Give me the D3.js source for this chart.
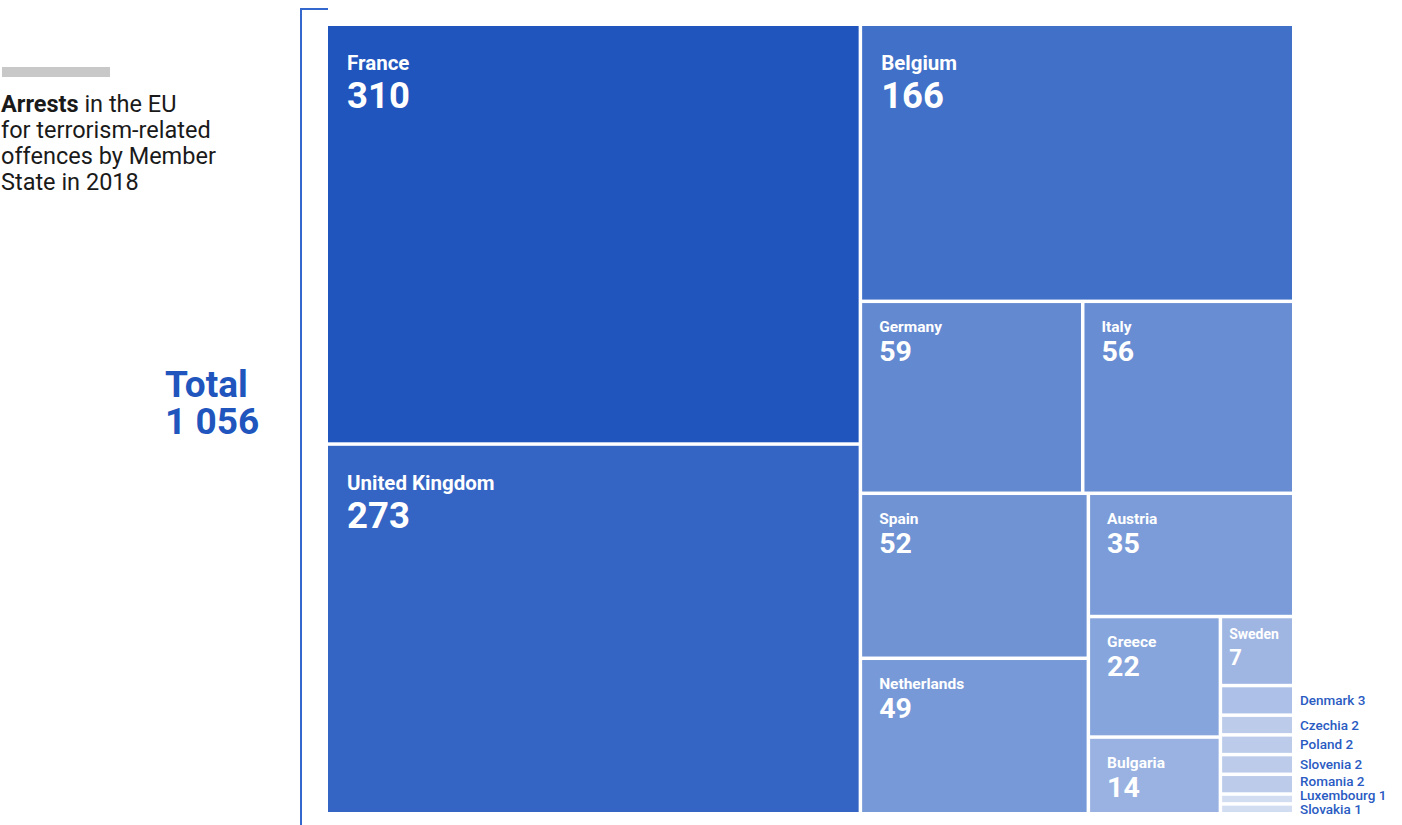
<!DOCTYPE html>
<html>
<head>
<meta charset="utf-8">
<script src="https://cdn.jsdelivr.net/npm/d3@7"></script>
<style>
  html, body { margin: 0; padding: 0; background: #ffffff; }
  svg { display: block; font-family: Roboto, "Noto Sans", sans-serif; }
</style>
</head>
<body>
<svg id="chart" width="1402" height="825"></svg>
<script>
// ---- data ----
const countries = ["France", "United Kingdom", "Belgium", "Germany", "Italy", "Spain", "Netherlands",
  "Austria", "Greece", "Bulgaria", "Sweden", "Denmark", "Czechia", "Poland", "Slovenia", "Romania",
  "Luxembourg", "Slovakia"];
const arrests = [310, 273, 166, 59, 56, 52, 49, 35, 22, 14, 7, 3, 2, 2, 2, 2, 1, 1];
const titleBold = "Arrests";
const titleLines = [" in the EU", "for terrorism-related", "offences by Member", "State in 2018"];
const totalLabel = "Total";

// ---- styles ----
const colorStops = [1, 2, 3, 7, 14, 22, 35, 49, 52, 59, 166, 273, 310];
const colorRange = ["#d3ddf2", "#bccbea", "#adc0e7", "#9fb5e2", "#99b2e1", "#86a5dc", "#7b9cd8",
  "#7799d7", "#7093d4", "#6389d0", "#4070c8", "#3465c4", "#2055be"];
const color = d3.scaleLinear().domain(colorStops).range(colorRange);
const blue = "#2055be";

const svg = d3.select("#chart");
const total = d3.sum(arrests);
const fmt = d3.formatLocale({decimal: ",", thousands: "\u00a0", grouping: [3], currency: ["", ""]}).format(",d");

// ---- left block ----
svg.append("rect").attr("x", 2).attr("y", 67).attr("width", 108).attr("height", 10).attr("fill", "#c8c8c8");
const titleSize = 23.5, titleY = 112, titleStep = 26;
const t = svg.append("text").attr("x", 1).attr("y", titleY).attr("font-size", titleSize).attr("fill", "#1a1a1a");
t.append("tspan").attr("font-weight", 700).text(titleBold);
t.append("tspan").text(titleLines[0]);
titleLines.slice(1).forEach((l, i) => {
  svg.append("text").attr("x", 1).attr("y", titleY + titleStep * (i + 1)).attr("font-size", titleSize)
    .attr("fill", "#1a1a1a").text(l);
});
svg.append("text").attr("x", 165).attr("y", 397).attr("font-size", 37).attr("font-weight", 700)
  .attr("fill", blue).text(totalLabel);
svg.append("text").attr("x", 165).attr("y", 434).attr("font-size", 37).attr("font-weight", 700)
  .attr("fill", blue).text(fmt(total));

// ---- bracket ----
svg.append("path").attr("d", "M301,825V9H328").attr("fill", "none")
  .attr("stroke", "#3468cc").attr("stroke-width", 2);

// ---- treemap ----
const X0 = 328, Y0 = 26, X1 = 1292, Y1 = 812;

// squarify (ratio 1); once the remaining strip gets narrow, stack the rest
function tile(parent, x0, y0, x1, y1) {
  const nodes = parent.children;
  let value = parent.value, i0 = 0, i1 = 0;
  const n = nodes.length;
  while (i0 < n) {
    const dx = x1 - x0, dy = y1 - y0;
    if (Math.min(dx, dy) < 80) {
      const rest = {value: value, children: nodes.slice(i0)};
      if (dx < dy) d3.treemapSlice(rest, x0, y0, x1, y1);
      else d3.treemapDice(rest, x0, y0, x1, y1);
      break;
    }
    let sumValue = nodes[i1++].value;
    let minValue = sumValue, maxValue = sumValue;
    const alpha = Math.max(dy / dx, dx / dy) / value;
    let beta = sumValue * sumValue * alpha;
    let minRatio = Math.max(maxValue / beta, beta / minValue);
    for (; i1 < n; ++i1) {
      const nv = nodes[i1].value;
      sumValue += nv;
      if (nv < minValue) minValue = nv;
      if (nv > maxValue) maxValue = nv;
      beta = sumValue * sumValue * alpha;
      const newRatio = Math.max(maxValue / beta, beta / minValue);
      if (newRatio > minRatio) { sumValue -= nv; break; }
      minRatio = newRatio;
    }
    const row = {value: sumValue, children: nodes.slice(i0, i1)};
    if (dx < dy) d3.treemapDice(row, x0, y0, x1, y0 += dy * sumValue / value);
    else d3.treemapSlice(row, x0, y0, x0 += dx * sumValue / value, y1);
    value -= sumValue; i0 = i1;
  }
}

const root = d3.hierarchy({children: countries.map((c, i) => ({name: c, value: arrests[i]}))})
  .sum(d => d.value || 0);
d3.treemap().tile(tile).size([X1 - X0, Y1 - Y0]).paddingInner(3.5)(root);

const g = svg.append("g").attr("transform", `translate(${X0},${Y0})`);
const leaves = root.leaves();
const cell = g.selectAll("g.cell").data(leaves).join("g").attr("class", "cell")
  .attr("transform", d => `translate(${d.x0},${d.y0})`);
cell.append("rect").attr("width", d => d.x1 - d.x0).attr("height", d => d.y1 - d.y0)
  .attr("fill", d => color(d.value));

function tier(v) { return v >= 100 ? "big" : v >= 10 ? "mid" : v >= 5 ? "small" : "tiny"; }
const tiers = {
  big:   {dx: 19, nameSize: 20.5, nameY: 44, valSize: 36.5, valY: 82},
  mid:   {dx: 17, nameSize: 15.5, nameY: 29, valSize: 28.5, valY: 58},
  small: {dx: 7,  nameSize: 14, nameY: 21, valSize: 22, valY: 47}
};
cell.filter(d => tier(d.value) !== "tiny").each(function(d) {
  const s = tiers[tier(d.value)];
  const sel = d3.select(this);
  sel.append("text").attr("x", s.dx).attr("y", s.nameY).attr("font-size", s.nameSize)
    .attr("font-weight", 700).attr("fill", "#ffffff").text(d.data.name);
  sel.append("text").attr("x", s.dx).attr("y", s.valY).attr("font-size", s.valSize)
    .attr("font-weight", 700).attr("fill", "#ffffff").text(d.value);
});

// outside labels for the tiniest cells, kept apart by a minimum step
const tiny = leaves.filter(d => tier(d.value) === "tiny");
const labelY = tiny.map(d => (d.y0 + d.y1) / 2);
labelY[labelY.length - 1] = Math.max(labelY[labelY.length - 1], Y1 - Y0 - 4);
for (let i = labelY.length - 2; i >= 0; --i) labelY[i] = Math.min(labelY[i], labelY[i + 1] - 14);
g.selectAll("text.out").data(tiny).join("text")
  .attr("class", "out")
  .attr("x", d => d.x1 + 8).attr("y", (d, i) => labelY[i]).attr("dy", "0.35em")
  .attr("font-size", 13.5).attr("font-weight", 500).attr("fill", "#2a5bc2")
  .text(d => `${d.data.name} ${d.value}`);
</script>
</body>
</html>
